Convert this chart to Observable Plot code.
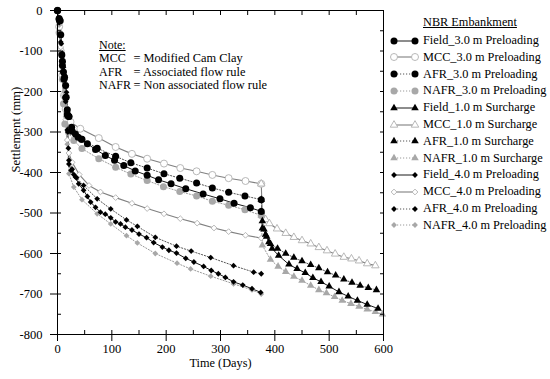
<!DOCTYPE html>
<html><head><meta charset="utf-8">
<script src="https://cdn.jsdelivr.net/npm/d3@7"></script>
<script src="https://cdn.jsdelivr.net/npm/@observablehq/plot@0.6"></script>
<style>
body{margin:0;background:#fff;}
#wrap{position:relative;width:550px;height:379px;overflow:hidden;font-family:"Liberation Serif","Times New Roman",Times;color:#000;}
#wrap > svg{position:absolute;left:0;top:0;}
.t{position:absolute;white-space:pre;font-size:12.3px;line-height:14px;}
.u{text-decoration:underline;}
.sw{position:absolute;}
</style></head>
<body><div id="wrap"></div>
<script>
// ---- data: [time (days), settlement (mm)] ----
const field30 = [[0,0],[3,-20],[5,-25],[8,-110],[9,-136],[11,-152],[13,-165],[15,-185],[16,-214],[18,-245],[19,-259],[21,-262],[26,-288],[33,-305],[44,-318],[55,-329],[70,-343],[88,-358],[105,-370],[122,-383],[143,-396],[165,-407],[186,-418],[209,-428],[236,-440],[268,-453],[299,-465],[325,-476],[355,-487],[375,-496]];
const mcc30 = [[0,0],[3,-40],[6,-100],[9,-160],[12,-210],[15,-243],[18,-262],[24,-275],[42,-292],[76,-315],[107,-337],[137,-354],[165,-366],[196,-378],[226,-389],[256,-397],[285,-406],[315,-414],[346,-421],[375,-428]];
const afr30 = [[0,0],[3,-22],[6,-60],[9,-125],[12,-170],[15,-215],[18,-256],[21,-262],[27,-298],[38,-313],[45,-318],[73,-340],[107,-360],[135,-376],[165,-389],[196,-403],[225,-414],[256,-426],[285,-438],[315,-449],[345,-458],[375,-467]];
const nafr30 = [[0,0],[3,-55],[6,-105],[9,-170],[11,-230],[13.5,-280],[20,-300],[30,-321],[45,-341],[76,-366],[107,-387],[135,-404],[165,-420],[195,-435],[225,-447],[256,-458],[285,-471],[315,-481],[345,-492],[375,-506]];

const field10 = [[375,-496],[377,-538],[383,-553],[389,-572],[395,-588],[407,-605],[426,-627],[441,-638],[456,-648],[470,-660],[485,-670],[500,-681],[518,-695],[535,-706],[552,-716],[570,-726],[590,-736]];
const mcc10 = [[375,-428],[377,-505],[383,-516],[390,-526],[404,-539],[420,-550],[435,-560],[450,-568],[466,-576],[481,-585],[496,-593],[511,-601],[527,-609],[541,-613],[555,-618],[570,-625],[585,-630]];
const afr10 = [[375,-467],[377,-520],[380,-540],[385,-558],[392,-576],[405,-588],[420,-600],[435,-610],[450,-619],[466,-628],[481,-636],[497,-646],[512,-654],[527,-664],[542,-672],[557,-679],[572,-685],[587,-690]];
const nafr10 = [[375,-506],[377,-580],[392,-615],[406,-632],[420,-645],[435,-657],[450,-667],[466,-679],[481,-690],[495,-698],[510,-707],[524,-716],[540,-724],[555,-731],[570,-738],[585,-744],[598,-750]];

const field40 = [[0,0],[3,-28],[5,-60],[7,-82],[8.6,-105],[10,-128],[11,-140],[13,-160],[15,-185],[16.6,-202],[18,-250],[19,-300],[20,-340],[21,-379],[25,-395],[30,-405],[33,-411],[39,-428],[48,-444],[55,-459],[61,-473],[70,-486],[79,-498],[88,-503],[98,-512],[107,-522],[116,-527],[125,-535],[137,-542],[150,-552],[164,-561],[177,-573],[193,-584],[205,-592],[219,-599],[236,-612],[251,-621],[269,-632],[283,-642],[296,-650],[309,-659],[324,-670],[341,-678],[358,-687],[374,-696]];
const mcc40 = [[0,0],[3,-35],[6,-90],[9,-150],[12,-210],[15,-270],[18,-320],[21,-352],[27,-375],[40,-405],[58,-432],[79,-448],[107,-462],[137,-476],[165,-489],[196,-502],[226,-514],[257,-525],[288,-537],[315,-546],[346,-555],[375,-562]];
const afr40 = [[0,0],[3,-30],[6,-78],[9,-125],[12,-170],[15,-225],[18,-295],[21,-370],[27,-392],[35,-413],[48,-432],[73,-465],[98,-490],[127,-517],[147,-533],[180,-560],[219,-582],[246,-594],[282,-610],[324,-630],[361,-646],[375,-650]];
const nafr40 = [[0,0],[3,-35],[6,-82],[9,-135],[12,-200],[15,-262],[18,-330],[21,-403],[30,-436],[45,-467],[73,-502],[98,-527],[127,-556],[147,-574],[180,-600],[220,-624],[245,-638],[282,-656],[324,-675],[358,-690],[375,-700]];

const seriesNames = ["Field_3.0 m Preloading","MCC_3.0 m Preloading","AFR_3.0 m Preloading","NAFR_3.0 m Preloading",
  "Field_1.0 m Surcharge","MCC_1.0 m Surcharge","AFR_1.0 m Surcharge","NAFR_1.0 m Surcharge",
  "Field_4.0 m Preloading","MCC_4.0 m Preloading","AFR_4.0 m Preloading","NAFR_4.0 m Preloading"];
const seriesData = [field30,mcc30,afr30,nafr30,field10,mcc10,afr10,nafr10,field40,mcc40,afr40,nafr40];
const seriesKind = ["field","mcc","afr","nafr","field","mcc","afr","nafr","field","mcc","afr","nafr"];
const seriesSymbol = ["circle","circle","circle","circle","triangle","triangle","triangle","triangle","diamond2","diamond2","diamond2","diamond2"];
const xMajor = [0,100,200,300,400,500,600];
const yMajor = [0,-100,-200,-300,-400,-500,-600,-700,-800];
const xMinor = d3.range(0,601,50);
const yMinor = d3.range(-800,1,50);
const legendTitle = "NBR Embankment";
const noteLines = [["Note:",""],["MCC","= Modified Cam Clay"],["AFR","= Associated flow rule"],["NAFR","= Non associated flow rule"]];

// ---- styles ----
const FONT = "'Liberation Serif','Times New Roman',Times";
const lineStyle = {
  field:{stroke:"#1a1a1a", strokeWidth:1},
  mcc:{stroke:"#808080", strokeWidth:1.1},
  afr:{stroke:"#555", strokeWidth:1, strokeDasharray:"1.2,1.8"},
  nafr:{stroke:"#9a9a9a", strokeWidth:1, strokeDasharray:"1.2,1.8"}
};
const dotStyle = {
  field:{fill:"#000", stroke:"none"},
  mcc:{fill:"#fff", stroke:"#b0b0b0", strokeWidth:0.9},
  afr:{fill:"#000", stroke:"none"},
  nafr:{fill:"#a8a8a8", stroke:"none"}
};
const symR = {circle:3.5, triangle:2.8, diamond2:2.6};

const idx = d3.range(seriesNames.length);
const order = ["mcc","nafr","afr","field"];
const lineMarks = idx.map(i => Plot.line(seriesData[i], {x: d => d[0], y: d => d[1], ...lineStyle[seriesKind[i]]}));
const dotMarks = order.flatMap(k => idx.filter(i => seriesKind[i] === k).map(i =>
  Plot.dot(seriesData[i], {x: d => d[0], y: d => d[1], symbol: () => seriesSymbol[i], r: symR[seriesSymbol[i]], ...dotStyle[k]})));

const fmt = d => String(d);
const chart = Plot.plot({
  width:550, height:379,
  marginLeft:57, marginRight:167, marginTop:10, marginBottom:45,
  style:{fontFamily:FONT, fontSize:"12px", color:"#000", background:"transparent", overflow:"visible"},
  x:{domain:[0,600]},
  y:{domain:[-800,0]},
  symbol:{type:"identity"},
  marks:[
    ...lineMarks,
    ...dotMarks,
    Plot.frame({stroke:"#000", strokeWidth:1}),
    Plot.axisX({ticks:xMajor, tickSize:7, tickPadding:3, tickFormat:fmt, label:null, fontSize:12.5}),
    Plot.axisX({ticks:xMinor, tickSize:-4, tickFormat:() => "", label:null}),
    Plot.axisX({anchor:"top", ticks:xMinor, tickSize:-4, tickFormat:() => "", label:null}),
    Plot.axisY({ticks:yMajor, tickSize:7, tickPadding:8, tickFormat:fmt, label:null, fontSize:12.5}),
    Plot.axisY({ticks:yMinor, tickSize:-4, tickFormat:() => "", label:null}),
    Plot.axisY({anchor:"right", ticks:yMinor, tickSize:-4, tickFormat:() => "", label:null}),
    Plot.text(["Time (Days)"], {frameAnchor:"bottom", dy:29, fontSize:12.3, lineAnchor:"middle"}),
    Plot.text(["Settlement (mm)"], {frameAnchor:"left", dx:-42, rotate:-90, fontSize:12.7, lineAnchor:"middle"})
  ]
});
const wrap = document.getElementById("wrap");
wrap.appendChild(chart);

// ---- note ----
noteLines.forEach((ln, j) => {
  const y = 38 + j*13.3;
  const a = document.createElement("div");
  a.className = "t" + (j === 0 ? " u" : "");
  a.style.left = "99px"; a.style.top = y + "px"; a.style.fontSize = "12px";
  a.textContent = ln[0];
  wrap.appendChild(a);
  if (ln[1]) {
    const b = document.createElement("div");
    b.className = "t";
    b.style.left = "133.5px"; b.style.top = y + "px"; b.style.fontSize = "12.4px";
    b.textContent = ln[1];
    wrap.appendChild(b);
  }
});

// ---- legend ----
const lt = document.createElement("div");
lt.className = "t u"; lt.style.left = "423px"; lt.style.top = "15px";
lt.textContent = legendTitle;
wrap.appendChild(lt);
const ns = "http://www.w3.org/2000/svg";
const d3sym = {circle:d3.symbolCircle, triangle:d3.symbolTriangle, diamond2:d3.symbolDiamond2};
idx.forEach(i => {
  const cy = 40.5 + i*16.8;
  const k = seriesKind[i], sym = seriesSymbol[i];
  const svg = document.createElementNS(ns, "svg");
  svg.setAttribute("width", 34); svg.setAttribute("height", 14);
  svg.setAttribute("class", "sw");
  svg.style.left = "388px"; svg.style.top = (cy - 7) + "px";
  const line = document.createElementNS(ns, "line");
  line.setAttribute("x1", 6); line.setAttribute("x2", 27); line.setAttribute("y1", 7); line.setAttribute("y2", 7);
  const ls = lineStyle[k];
  line.setAttribute("stroke", ls.stroke); line.setAttribute("stroke-width", ls.strokeWidth);
  if (ls.strokeDasharray) line.setAttribute("stroke-dasharray", ls.strokeDasharray);
  svg.appendChild(line);
  [6, 27].forEach(cx => {
    const p = document.createElementNS(ns, "path");
    const r = symR[sym];
    p.setAttribute("d", d3.symbol(d3sym[sym], Math.PI*r*r)());
    p.setAttribute("transform", `translate(${cx},7)`);
    const ds = dotStyle[k];
    p.setAttribute("fill", ds.fill);
    p.setAttribute("stroke", ds.stroke);
    if (ds.strokeWidth) p.setAttribute("stroke-width", ds.strokeWidth);
    svg.appendChild(p);
  });
  wrap.appendChild(svg);
  const tx = document.createElement("div");
  tx.className = "t"; tx.style.left = "423px"; tx.style.top = (cy - 7.5) + "px";
  tx.textContent = seriesNames[i];
  wrap.appendChild(tx);
});
</script>
</body></html>
